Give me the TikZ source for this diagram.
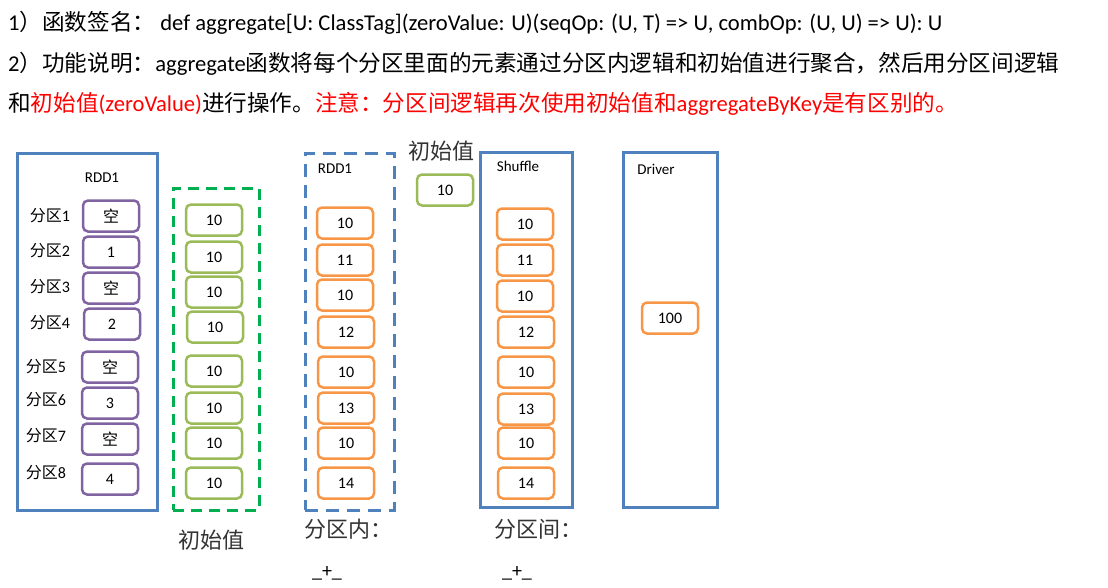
\documentclass[tikz,border=0pt]{standalone}
\usepackage{fontspec}
\setmainfont{Carlito}
\newfontfamily\cjk{Noto Sans CJK SC}
\newcommand{\zh}[1]{{\cjk #1}}
\definecolor{bblue}{HTML}{4F81BD}
\definecolor{ppurple}{HTML}{8064A2}
\definecolor{ggreen}{HTML}{9BBB59}
\definecolor{dgreen}{HTML}{00B050}
\definecolor{oorange}{HTML}{F79646}
\begin{document}
\begin{tikzpicture}[x=1pt,y=-1pt,
  cell/.style={rounded corners=5pt, line width=2.5pt, minimum width=56pt, minimum height=31pt, inner sep=0pt, font=\fontsize{16}{16}\selectfont},
  pcell/.style={cell, draw=ppurple},
  gcell/.style={cell, draw=ggreen},
  ocell/.style={cell, draw=oorange},
  frame/.style={draw=bblue, line width=3pt, inner sep=0pt},
  dframe/.style={frame, dash pattern=on 13pt off 8pt},
  gframe/.style={draw=dgreen, line width=3pt, inner sep=0pt, dash pattern=on 11pt off 7pt},
  lbl/.style={inner sep=0pt, font=\fontsize{15}{15}\selectfont},
  plbl/.style={inner sep=0pt, font=\fontsize{16}{16}\selectfont},
  ulbl/.style={inner sep=0pt, font=\fontsize{20}{20}\selectfont},
  big/.style={inner sep=0pt, font=\fontsize{22}{22}\selectfont\cjk, text=black!80},
  head/.style={inner sep=0pt, anchor=base west, font=\fontsize{22.6}{22.6}\selectfont}
]
\useasboundingbox (0,0) rectangle (1108,587);

% header
\node[head] (h1) at (8,30) {1\zh{）函数签名：} def aggregate[U: ClassTag](zeroValue: U)(seqOp: (U, T) => U, combOp: (U, U) => U): U};
\node[head] (h2) at (8,71) {2\zh{）功能说明：}aggregate\zh{函数将每个分区里面的元素通过分区内逻辑和初始值进行聚合，然后用分区间逻辑}};
\node[head] (h3) at (8,111) {\zh{和}\textcolor{red}{\zh{初始值}(zeroValue)}\zh{进行操作。}\textcolor{red}{\zh{注意：分区间逻辑再次使用初始值和}aggregateByKey\zh{是有区别的。}}};

% containers
\node[frame, minimum width=140pt, minimum height=357pt] (rdd1) at (87,331.5) {};
\node[gframe, minimum width=86pt, minimum height=322pt] (zero) at (216,349) {};
\node[dframe, minimum width=89pt, minimum height=357pt] (rdd2) at (349.5,331.5) {};
\node[frame, minimum width=92pt, minimum height=355pt] (shuf) at (526,329.5) {};
\node[frame, minimum width=94pt, minimum height=355pt] (drv) at (670,329.5) {};

% container labels
\node[lbl] (t1) at (102,178) {RDD1};
\node[lbl] (t2) at (335,169) {RDD1};
\node[lbl] (t3) at (518,166) {Shuffle};
\node[lbl] (t4) at (656,169) {Driver};

% RDD1 partitions
\node[plbl] (q1) at (50,216) {\zh{分区}1};
\node[plbl] (q2) at (50,251) {\zh{分区}2};
\node[plbl] (q3) at (50,287) {\zh{分区}3};
\node[plbl] (q4) at (50,323) {\zh{分区}4};
\node[plbl] (q5) at (46,367) {\zh{分区}5};
\node[plbl] (q6) at (46,400) {\zh{分区}6};
\node[plbl] (q7) at (46,436) {\zh{分区}7};
\node[plbl] (q8) at (46,473) {\zh{分区}8};

\node[pcell] (p1) at (111,216) {\zh{空}};
\node[pcell] (p2) at (111,252) {1};
\node[pcell] (p3) at (111,288) {\zh{空}};
\node[pcell] (p4) at (112,324) {2};
\node[pcell] (p5) at (110,367) {\zh{空}};
\node[pcell] (p6) at (110,403) {3};
\node[pcell] (p7) at (110,439) {\zh{空}};
\node[pcell] (p8) at (110,479) {4};

% zero values
\node[gcell] (g1) at (214,220) {10};
\node[gcell] (g2) at (214,257) {10};
\node[gcell] (g3) at (214,292) {10};
\node[gcell] (g4) at (215,327) {10};
\node[gcell] (g5) at (214,371) {10};
\node[gcell] (g6) at (214,408) {10};
\node[gcell] (g7) at (214,443) {10};
\node[gcell] (g8) at (214,483) {10};

% RDD1 after seqOp
\node[ocell] (r1) at (345,223) {10};
\node[ocell] (r2) at (345,260) {11};
\node[ocell] (r3) at (345,295) {10};
\node[ocell] (r4) at (346,332) {12};
\node[ocell] (r5) at (346,372) {10};
\node[ocell] (r6) at (346,408) {13};
\node[ocell] (r7) at (346,443) {10};
\node[ocell] (r8) at (346,483) {14};

% shuffle
\node[ocell] (s1) at (525,224) {10};
\node[ocell] (s2) at (525,260) {11};
\node[ocell] (s3) at (525,296) {10};
\node[ocell] (s4) at (526,332) {12};
\node[ocell] (s5) at (526,372) {10};
\node[ocell] (s6) at (526,409) {13};
\node[ocell] (s7) at (526,443) {10};
\node[ocell] (s8) at (526,483) {14};

% top zero value
\node[big] (z0) at (441,151) {初始值};
\node[gcell] (zv) at (445,190) {10};

% driver
\node[ocell] (d1) at (670,318) {100};

% bottom labels
\node[big] (b1) at (211,540) {初始值};
\node[big] (b2) at (348,529) {分区内：};
\node[big] (b3) at (538,529) {分区间：};
\node[ulbl] (u1) at (327,573) {\_+\_};
\node[ulbl] (u2) at (517,573) {\_+\_};
\end{tikzpicture}
\end{document}
